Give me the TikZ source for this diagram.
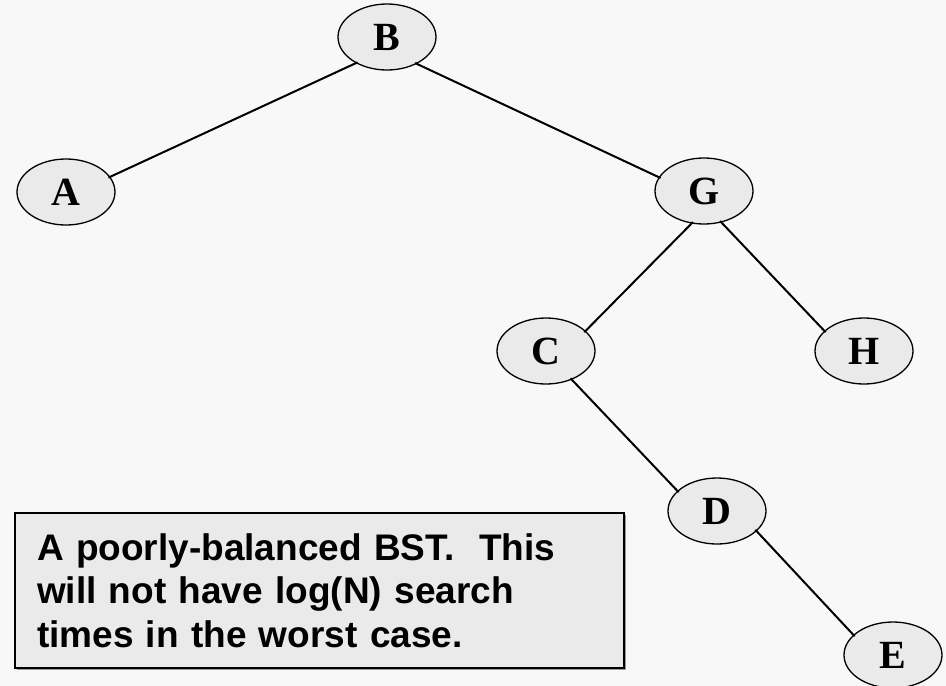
\documentclass[tikz,border=0pt]{standalone}
\usepackage{fontspec}
\setmainfont{Liberation Serif}
\newfontfamily\arialfont{Liberation Sans}
\usetikzlibrary{shapes.geometric,shadows}
\definecolor{bgcol}{HTML}{F8F8F8}
\definecolor{nodefill}{HTML}{EAEAEA}
\definecolor{boxfill}{HTML}{EAEAEA}
\tikzset{
  treenode/.style={ellipse, draw=black, line width=1.3pt, fill=nodefill,
    minimum width=98pt, minimum height=66pt, inner sep=0pt,
    font=\fontsize{40}{40}\selectfont\bfseries},
  treeedge/.style={line width=2pt, black, shorten <=-2pt, shorten >=-2pt},
  notebox/.style={rectangle, draw=black, line width=2pt, fill=boxfill,
    minimum width=609pt, minimum height=155pt, text width=565pt,
    inner xsep=22pt, inner ysep=0pt, align=left,
    font=\arialfont\bfseries\fontsize{37}{43.5}\selectfont,
    drop shadow={shadow xshift=1.5pt, shadow yshift=-1.5pt, fill=gray!80, opacity=1}}
}
\begin{document}
\begin{tikzpicture}[x=1pt,y=-1pt]
\fill[bgcol] (0,0) rectangle (946,686);
\useasboundingbox (0,0) rectangle (946,686);
\node[treenode] (B) at (387,37) {B};
\node[treenode] (A) at (66,192) {A};
\node[treenode] (G) at (704,191) {G};
\node[treenode] (C) at (546,351) {C};
\node[treenode] (H) at (864,351) {H};
\node[treenode] (D) at (717,511) {D};
\node[treenode] (E) at (893,655) {E};
\draw[treeedge] (B.220) -- (A.19);
\draw[treeedge] (B.318) -- (G.163);
\draw[treeedge] (G.249) -- (C.27);
\draw[treeedge] (G.299) -- (H.153);
\draw[treeedge] (C.312) -- (D.153);
\draw[treeedge] (D.333) -- (E.153);
\node[notebox] (note) at (319.5,590.5) {A poorly-balanced BST.\ \ This\\ will not have log(N) search\\ times in the worst case.};
\end{tikzpicture}
\end{document}
